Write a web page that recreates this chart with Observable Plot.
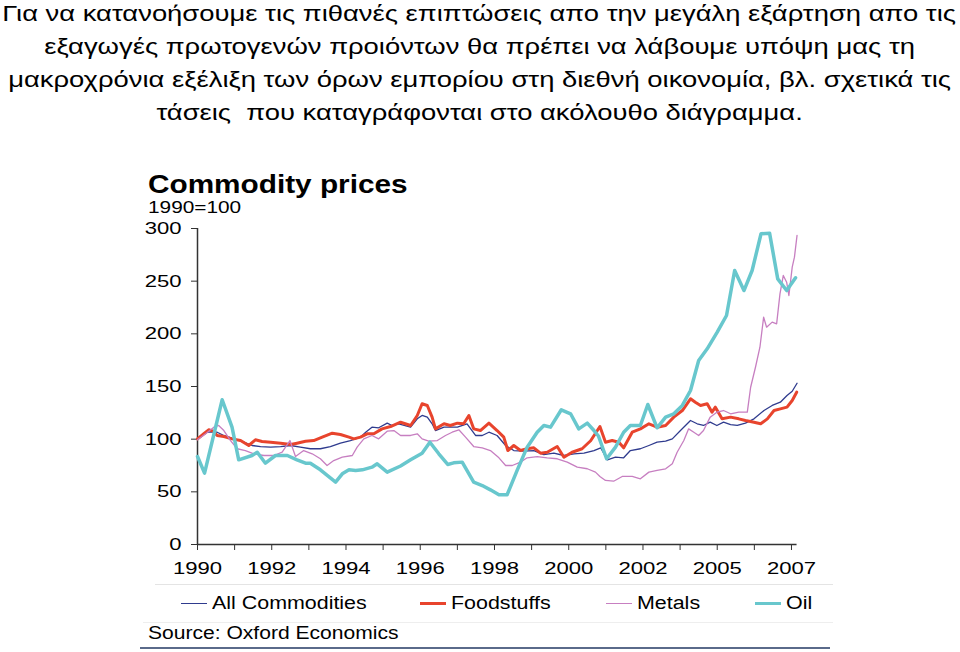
<!DOCTYPE html>
<html><head><meta charset="utf-8">
<script src="https://cdn.jsdelivr.net/npm/d3@7"></script>
<script src="https://cdn.jsdelivr.net/npm/@observablehq/plot@0.6"></script>
<style>
body{margin:0;background:#fff;font-family:"Liberation Sans",Arial,sans-serif;}
#wrap{position:relative;width:960px;height:652px;overflow:hidden;background:#fff;}
.hl{position:absolute;left:0;width:959px;text-align:center;white-space:pre;font-size:22px;line-height:25px;height:25px;color:#000;}
.hl span{display:inline-block;transform:scaleX(1.245);transform-origin:50% 50%;}
#title{position:absolute;left:148px;top:170px;font-size:25px;font-weight:bold;white-space:nowrap;line-height:28px;transform:scaleX(1.19);transform-origin:0 50%;}
#sub{position:absolute;left:148px;top:199px;font-size:16px;white-space:nowrap;line-height:18px;transform:scaleX(1.3);transform-origin:0 50%;}
#chart{position:absolute;left:140px;top:215px;}
.leg{position:absolute;top:592px;font-size:18px;line-height:22px;white-space:nowrap;}
.leg .tx{display:inline-block;transform:scaleX(1.19);transform-origin:0 50%;}
.sw{display:inline-block;width:26px;vertical-align:middle;margin-right:5px;position:relative;top:-1px;}
#src{position:absolute;left:148px;top:622px;font-size:18px;line-height:22px;white-space:nowrap;transform:scaleX(1.17);transform-origin:0 50%;}
.hr{position:absolute;height:0;}
</style></head>
<body><div id="wrap">
<div class="hl" style="top:1px"><span>Για να κατανοήσουμε τις πιθανές επιπτώσεις απο την μεγάλη εξάρτηση απο τις</span></div>
<div class="hl" style="top:34px"><span>εξαγωγές πρωτογενών προιόντων θα πρέπει να λάβουμε υπόψη μας τη</span></div>
<div class="hl" style="top:67px"><span>μακροχρόνια εξέλιξη των όρων εμπορίου στη διεθνή οικονομία, βλ. σχετικά τις</span></div>
<div class="hl" style="top:100px"><span>τάσεις  που καταγράφονται στο ακόλουθο διάγραμμα.</span></div>
<div id="title">Commodity prices</div>
<div id="sub">1990=100</div>
<div id="chart"></div>
<div class="hr" style="left:155px;width:678px;top:584px;border-top:1px solid #e4e4e4"></div>
<div class="hr" style="left:143px;width:690px;top:622px;border-top:1px solid #eeeeee"></div>
<div class="hr" style="left:140px;width:690px;top:647px;border-top:2px solid #5a6a8a"></div>
<div id="legend"></div>
<div id="src">Source: Oxford Economics</div>
</div>
<script>
// x positions are in "years since 1990" as laid out on the original category axis
const tickLabels = ["1990","1992","1994","1996","1998","2000","2002","2005","2007"];
const tickPositions = [0,2,4,6,8,10,12,14,16];
const yTicks = [0,50,100,150,200,250,300];
const seriesNames = ["All Commodities","Foodstuffs","Metals","Oil"];

const allCommodities = [
[0,100.3],[0.26,106.6],[0.53,106.6],[0.71,103.5],[0.98,100.3],[1.25,97.1],[1.47,94],[1.70,93],[1.97,92.4],
[2.24,93],[2.51,94],[2.77,92.4],[3.04,90.9],[3.31,90.9],[3.58,93],[3.85,96.2],[4.12,98.7],[4.39,101.9],
[4.53,106.6],[4.70,111.4],[4.88,110.8],[5.11,115.2],[5.24,113],[5.42,114.6],[5.74,111.4],[5.92,119.3],
[6.05,122.5],[6.19,120.9],[6.32,114.6],[6.41,108.2],[6.64,111.4],[7.0,111.4],[7.26,114.6],[7.49,103.5],
[7.67,103.5],[7.85,106.6],[8.07,103.5],[8.30,94],[8.52,89.2],[8.79,88.6],[9.06,89.2],[9.33,85.4],[9.60,86.7],
[9.87,84.5],[10.14,86.1],[10.41,86.7],[10.68,89.2],[10.86,91.8],[11.04,80.4],[11.26,82.9],[11.48,82.3],
[11.66,89.2],[11.93,90.9],[12.16,94],[12.38,97.1],[12.61,98.1],[12.79,100.3],[13.01,108.2],[13.28,117.7],
[13.46,114.6],[13.63,113],[13.81,116.1],[13.99,113],[14.17,116.1],[14.36,113.9],[14.54,113],[14.76,115.2],
[14.99,119.3],[15.26,127.2],[15.48,132],[15.70,135.1],[15.88,141.5],[16.02,145.5],[16.15,153.1]
];
const foodstuffs = [
[0,100.3],[0.17,105.1],[0.30,108.9],[0.42,107.6],[0.53,103.5],[0.71,102.5],[0.93,100.3],[1.16,98.7],[1.38,94],
[1.56,99.4],[1.74,97.8],[1.97,97.1],[2.24,96.2],[2.51,94.9],[2.68,96.2],[2.91,98.1],[3.13,98.7],[3.36,101.9],
[3.63,105.7],[3.85,104.4],[4.08,101.9],[4.21,100.3],[4.39,101.9],[4.57,105.1],[4.75,105.1],[4.97,109.8],
[5.20,112],[5.47,116.1],[5.74,113],[5.92,122.5],[6.05,133.6],[6.19,132],[6.32,120.9],[6.41,109.8],[6.64,114.6],
[6.81,113],[7.0,115.2],[7.17,114.6],[7.31,122.5],[7.44,109.8],[7.62,108.2],[7.85,115.2],[8.07,108.2],
[8.25,101.9],[8.36,89.2],[8.52,94],[8.70,89.2],[8.88,90.9],[9.06,91.8],[9.24,86.7],[9.42,87.6],[9.69,93],
[9.87,82.9],[10.09,87.6],[10.36,90.9],[10.59,98.5],[10.84,112],[10.99,97.1],[11.17,98.7],[11.35,97.1],
[11.48,91.8],[11.71,106.6],[11.93,109.8],[12.16,114.6],[12.38,111.4],[12.61,113],[12.83,120.9],[13.06,127.2],
[13.28,138.3],[13.41,135.1],[13.55,132],[13.73,133.6],[13.86,125.6],[13.95,130.4],[14.13,119.3],[14.36,120.9],
[14.58,119.3],[14.76,117.7],[14.99,116.1],[15.17,114.6],[15.35,119.3],[15.53,127.2],[15.70,128.8],
[15.88,130.4],[16.02,136.7],[16.14,144.6]
];
const metals = [
[0,99.4],[0.22,105.1],[0.44,111.4],[0.57,113],[0.71,108.2],[0.89,98.7],[1.07,90.9],[1.29,89.2],[1.52,86.1],
[1.79,84.5],[2.06,84.5],[2.28,87.6],[2.49,98.7],[2.64,83.5],[2.86,89.2],[3.09,86.1],[3.31,81.4],[3.49,75],
[3.67,79.7],[3.90,82.9],[4.17,84.5],[4.30,92.4],[4.48,100.3],[4.70,103.5],[4.88,100.3],[5.11,107.6],
[5.29,108.2],[5.47,103.5],[5.74,103.5],[5.92,105.1],[6.05,100.3],[6.23,98.1],[6.46,98.7],[6.68,103.5],
[6.86,106.6],[7.04,108.9],[7.22,101.9],[7.44,93],[7.67,91.8],[7.89,89.2],[8.12,82.3],[8.30,75],[8.48,75],
[8.70,78.2],[8.88,82.3],[9.15,83.5],[9.42,82.3],[9.69,81.4],[9.96,78.2],[10.23,73.4],[10.50,71.9],
[10.72,68.7],[10.84,64.6],[10.99,60.8],[11.21,60.1],[11.44,64.6],[11.71,64.6],[11.93,62.4],[12.16,68.7],
[12.38,70.3],[12.61,71.9],[12.79,76.6],[12.92,87.6],[13.10,98.7],[13.23,109.8],[13.37,106.6],[13.50,103.5],
[13.63,108.2],[13.81,120.9],[13.99,125.6],[14.17,127.2],[14.36,124.1],[14.58,125.6],[14.81,125.6],
[14.90,149.3],[15.03,168.3],[15.15,187.3],[15.25,215.8],[15.33,206.3],[15.48,211.1],[15.60,209.5],
[15.69,238],[15.78,255.4],[15.87,249],[15.93,236.4],[16.02,263.3],[16.08,272.8],[16.15,293.4]
];
const oil = [
[0,83.5],[0.19,67.7],[0.665,137.4],[0.93,111.4],[1.11,80.4],[1.47,84.5],[1.61,87.6],[1.83,77.2],[2.10,84.5],
[2.42,84.5],[2.68,80.4],[2.91,77.2],[3.04,77.2],[3.31,70.9],[3.72,59.2],[3.90,67.1],[4.08,70.9],[4.26,70.3],
[4.44,70.9],[4.70,73.4],[4.84,76.6],[5.11,68.7],[5.47,74.5],[5.74,80.4],[6.05,86.7],[6.26,97.1],[6.50,86.1],
[6.74,76],[6.90,77.5],[7.13,78.2],[7.44,59.2],[7.67,56],[7.89,51.9],[8.12,47.2],[8.34,47.2],[8.61,70.3],
[8.88,92.4],[9.15,106.6],[9.33,113],[9.51,111.4],[9.80,127.9],[10.05,124.1],[10.27,109.8],[10.50,115.2],
[10.68,108.2],[10.80,103],[11.02,81.4],[11.26,92.4],[11.48,106.6],[11.66,113],[11.93,113],[12.13,132.9],
[12.38,110.8],[12.61,120.9],[12.83,124.1],[13.06,132],[13.28,146.2],[13.50,174.7],[13.73,185.8],[14.0,201.6],
[14.25,217.4],[14.47,260.1],[14.72,241.1],[14.94,260.1],[15.18,295],[15.41,295.6],[15.63,252.2],[15.87,241.1],
[16.11,253.2]
];

const colors = ["#2f3b8e","#e8442d","#c77fc1","#68c7cd"];
const widths = [1.3,3,1.3,3.5];
const seriesData = [allCommodities, foodstuffs, metals, oil];
const labelAt = new Map(tickPositions.map((p,i)=>[p,tickLabels[i]]));
const xMax = 16.2;

const plot = Plot.plot({
  width:700, height:380,
  marginLeft:57, marginRight:41.6, marginTop:13, marginBottom:51,
  style:{fontFamily:"'Liberation Sans', Arial, sans-serif", fontSize:"17px", color:"#000", background:"transparent"},
  x:{domain:[0,xMax]},
  y:{domain:[0,300]},
  marks:[
    Plot.axisY({ticks:yTicks, tickSize:6, tickPadding:10, label:null, stroke:"#333", fill:"#000", fontSize:17}),
    Plot.axisX({ticks:d3.range(0,17), tickFormat:d=>labelAt.get(d) ?? "", tickSize:6, tickPadding:11, label:null, stroke:"#333", fill:"#000", fontSize:17}),
    Plot.ruleX([0], {y1:0, y2:300, stroke:"#333", strokeWidth:1.5}),
    Plot.ruleY([0], {x1:0, x2:16.15, stroke:"#333", strokeWidth:1.5}),
    ...seriesData.map((d,i)=>Plot.line(d, {x:p=>p[0], y:p=>p[1], stroke:colors[i], strokeWidth:widths[i], strokeLinejoin:"round"}))
  ]
});
document.getElementById("chart").appendChild(plot);

// the reference's axis labels are horizontally stretched: widen them about their anchor
d3.select(plot).selectAll("text").each(function(){
  const ax = +this.getAttribute("x") || 0;
  const t = this.getAttribute("transform") || "";
  this.setAttribute("transform", `${t} translate(${ax},0) scale(1.3,1) translate(${-ax},0)`);
});

// legend
const legX = [181, 420, 606, 755];
const leg = document.getElementById("legend");
seriesNames.forEach((n,i)=>{
  const d = document.createElement("div");
  d.className = "leg";
  d.style.left = legX[i]+"px";
  d.innerHTML = `<span class="sw" style="border-top:${Math.max(1.5,widths[i])}px solid ${colors[i]}"></span><span class="tx">${n}</span>`;
  leg.appendChild(d);
});
</script>
</body></html>
